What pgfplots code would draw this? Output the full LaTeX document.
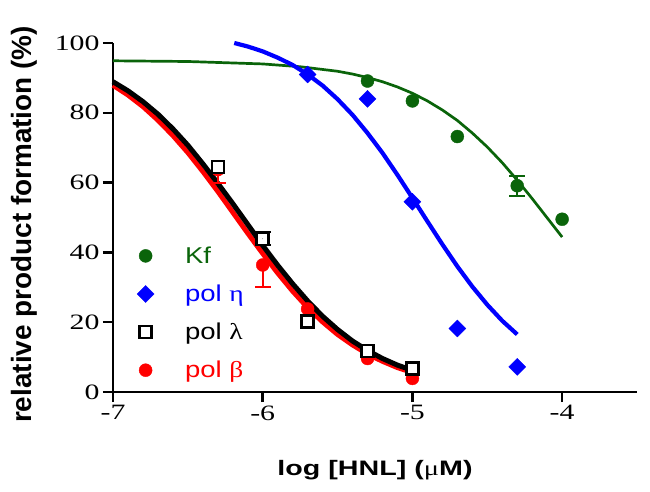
\documentclass[border=0pt]{standalone}
\usepackage{pgfplots}
\pgfplotsset{compat=1.18}
\usepackage{pgfplotstable}
\usepackage{fontspec}
\setmainfont{Liberation Serif}[FakeStretch=1.36]
\newfontfamily\xlabfont{Liberation Sans}[FakeStretch=1.37]
\newfontfamily\ylabfont{Liberation Sans}
\newfontfamily\legfont{Liberation Sans}[FakeStretch=1.2]
\newfontfamily\legserif{Liberation Serif}[FakeStretch=1.2]
\definecolor{kfgreen}{RGB}{10,100,10}
\definecolor{etablue}{RGB}{0,0,255}
\definecolor{betared}{RGB}{255,0,0}

% data points
\pgfplotstableread{
x y
-5.3 89.1
-5.0 83.4
-4.7 73.2
-4.3 59.1
-4.0 49.5
}\kfdata
\pgfplotstableread{
x y e
-4.3 59.1 2.8
}\kferr
\pgfplotstableread{
x y
-5.7 91.0
-5.3 84.0
-5.0 54.5
-4.7 18.2
-4.3 7.2
}\etadata
\pgfplotstableread{
x y
-6.3 64.5
-6.0 43.9
-5.7 20.2
-5.3 11.8
-5.0 6.8
}\lamdata
\pgfplotstableread{
x y e
-6.0 43.9 1.9
}\lamerr
\pgfplotstableread{
x y
-6.3 63.7
-6.0 36.4
-5.7 23.8
-5.3 9.6
-5.0 3.9
}\betdata
\pgfplotstableread{
x y e
-6.3 63.7 3.7
-6.0 36.4 6.4
}\beterr

% fitted curves
\pgfplotstableread{
x y
-7.00 94.9
-6.50 94.7
-6.00 94.0
-5.75 93.2
-5.50 91.9
-5.40 91.1
-5.30 90.1
-5.20 88.9
-5.10 87.4
-5.00 85.6
-4.90 83.4
-4.80 80.8
-4.70 77.8
-4.60 74.2
-4.50 70.2
-4.40 65.7
-4.30 60.7
-4.20 55.4
-4.10 49.9
-4.00 44.4
}\kffit
\pgfplotstableread{
x y
-6.19 100.0
-6.10 99.0
-6.00 97.6
-5.90 95.8
-5.80 93.7
-5.70 91.0
-5.60 87.8
-5.50 83.9
-5.40 79.4
-5.30 74.2
-5.20 68.5
-5.10 62.2
-5.00 55.6
-4.90 48.9
-4.80 42.3
-4.70 36.0
-4.60 30.2
-4.50 25.0
-4.40 20.4
-4.30 16.5
}\etafit
\pgfplotstableread{
x y
-7.0 88.9
-6.9 86.3
-6.8 83.2
-6.7 79.6
-6.6 75.4
-6.5 70.7
-6.4 65.4
-6.3 59.8
-6.2 54.0
-6.1 48.0
-6.0 42.0
-5.9 36.3
-5.8 31.0
-5.7 26.1
-5.6 21.7
-5.5 17.9
-5.4 14.6
-5.3 11.9
-5.2 9.6
-5.1 7.7
-5.0 6.2
}\lamfit
\pgfplotstableread{
x y
-7.0 87.9
-6.9 85.1
-6.8 81.8
-6.7 77.9
-6.6 73.5
-6.5 68.6
-6.4 63.2
-6.3 57.5
-6.2 51.5
-6.1 45.5
-6.0 39.7
-5.9 34.1
-5.8 28.9
-5.7 24.2
-5.6 20.1
-5.5 16.5
-5.4 13.5
-5.3 10.9
-5.2 8.8
-5.1 7.0
-5.0 5.6
}\betfit

\begin{document}
\begin{tikzpicture}
\begin{axis}[
  at={(0,0)}, anchor=south west,
  scale only axis, width=524bp, height=349bp,
  xmin=-7, xmax=-3.5, ymin=0, ymax=100,
  axis lines*=left,
  axis line style={line width=2.5bp, black},
  xtick={-7,-6,-5,-4}, xticklabels={-7,-6,-5,-4},
  ytick={0,20,40,60,80,100}, yticklabels={0,20,40,60,80,100},
  tick align=outside, major tick length=10bp,
  every tick/.style={black, line width=2.5bp},
  tick label style={font=\fontsize{22}{22}\selectfont},
  clip=false,
  xlabel={{\xlabfont\bfseries log [HNL] (}μ{\xlabfont\bfseries M)}},
  ylabel={\ylabfont\bfseries relative product formation (\%)},
  x label style={at={(axis description cs:0.5,-0.238)}, anchor=base,
    font=\fontsize{21}{21}\selectfont},
  y label style={at={(axis description cs:-0.156,0.48)}, anchor=base,
    font=\fontsize{28}{28}\selectfont},
  legend style={at={(axis cs:-6.86,42.5)}, anchor=north west, draw=none,
    fill=none, font=\fontsize{23}{23}\selectfont, row sep=18bp,
    nodes={inner sep=1bp}},
  legend cell align=left,
]
% Kf
\addplot[forget plot, kfgreen, line width=2.7bp, no marks] table[x=x,y=y] {\kffit};
\addplot[only marks, mark=*, mark size=6.5bp, color=kfgreen,
  mark options={draw=kfgreen, fill=kfgreen}] table[x=x,y=y] {\kfdata};
\addlegendentry{\hspace*{30bp}\textcolor{kfgreen}{\legfont Kf}}
\addplot[forget plot, only marks, mark=*, mark size=0.01bp, kfgreen,
  error bars/.cd, y dir=both, y explicit, error mark=-,
  error bar style={line width=2bp, kfgreen},
  error mark options={rotate=90, kfgreen, line width=2bp, mark size=8bp}]
  table[x=x,y=y,y error=e] {\kferr};
% pol eta
\addplot[forget plot, etablue, line width=4.2bp, no marks] table[x=x,y=y] {\etafit};
\addplot[only marks, mark=square*, mark size=6bp, color=etablue,
  mark options={rotate=45, draw=etablue, fill=etablue}] table[x=x,y=y] {\etadata};
\addlegendentry{\hspace*{30bp}\textcolor{etablue}{\legfont pol }\textcolor{etablue}{\legserif η}}
% pol beta curve (below black)
\addplot[forget plot, betared, line width=5bp, no marks] table[x=x,y=y] {\betfit};
% pol lambda curve
\addplot[forget plot, black, line width=5bp, no marks] table[x=x,y=y] {\lamfit};
% pol beta points
\addplot[forget plot, only marks, mark=*, mark size=0.01bp, betared,
  error bars/.cd, y dir=minus, y explicit, error mark=-,
  error bar style={line width=2bp, betared},
  error mark options={rotate=90, betared, line width=2bp, mark size=8bp}]
  table[x=x,y=y,y error=e] {\beterr};
\addplot[forget plot, only marks, mark=*, mark size=6.5bp, color=betared,
  mark options={draw=betared, fill=betared}] table[x=x,y=y] {\betdata};
% pol lambda points
\addplot[only marks, mark=square*, mark size=6bp, color=black,
  mark options={draw=black, fill=white, line width=2.5bp}] table[x=x,y=y] {\lamdata};
\addlegendentry{\hspace*{30bp}{\legfont pol }{\legserif λ}}
\addplot[forget plot, only marks, mark=*, mark size=0.01bp, black,
  error bars/.cd, y dir=both, y explicit, error mark=-,
  error bar style={line width=2bp, black},
  error mark options={rotate=90, black, line width=2bp, mark size=8bp}]
  table[x=x,y=y,y error=e] {\lamerr};
\addlegendimage{only marks, mark=*, mark size=6.5bp, color=betared,
  mark options={draw=betared, fill=betared}}
\addlegendentry{\hspace*{30bp}\textcolor{betared}{\legfont pol }\textcolor{betared}{\legserif β}}
\end{axis}
\pgfresetboundingbox
\path[use as bounding box] (-113bp,-100bp) rectangle (537bp,392bp);
\end{tikzpicture}
\end{document}
